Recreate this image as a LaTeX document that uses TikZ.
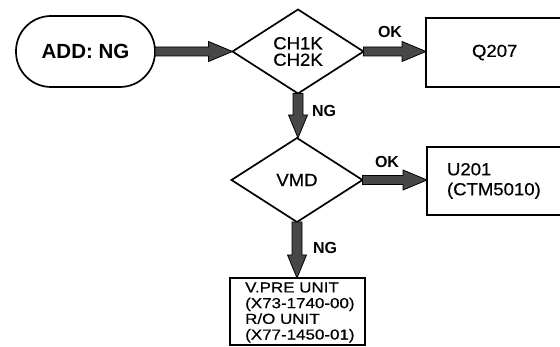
\documentclass[tikz,border=0pt]{standalone}
\usepackage{fontspec}
\setmainfont{Liberation Sans}
\newfontfamily\widefont[FakeStretch=1.06,FakeBold=0.5]{Liberation Sans}
\newfontfamily\widerfont[FakeStretch=1.17,FakeBold=0.5]{Liberation Sans}
\usetikzlibrary{shapes.geometric,calc}
\tikzset{
  shp/.style={draw=black, line width=1.7pt, outer sep=0pt, inner sep=0pt},
  decision/.style={shp, diamond, minimum width=131pt, minimum height=84pt, align=center,
    font=\widefont\fontsize{17.5}{16.5}\selectfont},
  box/.style={shp, rectangle, align=left, font=\widefont\fontsize{17.5}{20}\selectfont},
  lbl/.style={font=\bfseries\fontsize{16}{16}\selectfont, inner sep=0pt},
  fat/.style={fill=black!72, draw=black, line width=0.8pt, line join=miter}
}
\newcommand\fatH[2]{\filldraw[fat] let \p1=(#1), \p2=(#2) in
  (\x1,\y1+4.5pt) -- (\x2-24pt,\y1+4.5pt) -- (\x2-24pt,\y1+10pt) -- (\x2,\y1)
  -- (\x2-24pt,\y1-10pt) -- (\x2-24pt,\y1-4.5pt) -- (\x1,\y1-4.5pt) -- cycle;}
\newcommand\fatV[2]{\filldraw[fat] let \p1=(#1), \p2=(#2) in
  (\x1-5pt,\y1) -- (\x1-5pt,\y2+23pt) -- (\x1-9.5pt,\y2+23pt) -- (\x1,\y2)
  -- (\x1+9.5pt,\y2+23pt) -- (\x1+5pt,\y2+23pt) -- (\x1+5pt,\y1) -- cycle;}
\begin{document}
\begin{tikzpicture}[x=1pt,y=-1pt]
\useasboundingbox[fill=white] (0,0) rectangle (560,347);
% start
\node[shp, rectangle, rounded corners=35pt, minimum width=139pt, minimum height=71pt,
  font=\bfseries\fontsize{20.5}{20}\selectfont] (start) at (85.5,51.5) {ADD: NG};
% decisions
\node[decision] (d1) at (298,51.5) {CH1K\\CH2K};
\node[decision] (d2) at (297,180) {VMD};
% result boxes
\node[box, anchor=west, minimum height=69pt, text width=100pt, inner xsep=46pt] (q207) at (426,52.5) {Q207};
\node[box, anchor=west, minimum height=68pt, text width=120pt, inner xsep=20pt] (u201) at (427,181) {U201\\(CTM5010)};
\node[shp, rectangle, anchor=north, minimum width=135pt, minimum height=67pt] (unit) at (297.5,278) {};
\node[anchor=west, inner sep=0pt, align=left, font=\widerfont\fontsize{14.5}{15.7}\selectfont]
  (unittext) at (245,312.5) {V.PRE UNIT\\(X73-1740-00)\\R/O UNIT\\(X77-1450-01)};
% arrows
\fatH{start.east}{d1.west}
\fatH{d1.east}{q207.west}
\fatV{d1.south}{d2.north}
\fatH{d2.east}{u201.west}
\fatV{d2.south}{unit.north}
% labels
\node[lbl] (ok1) at (390,32) {OK};
\node[lbl] (ng1) at (324,111) {NG};
\node[lbl] (ok2) at (387,162) {OK};
\node[lbl] (ng2) at (325,248) {NG};
\end{tikzpicture}
\end{document}
